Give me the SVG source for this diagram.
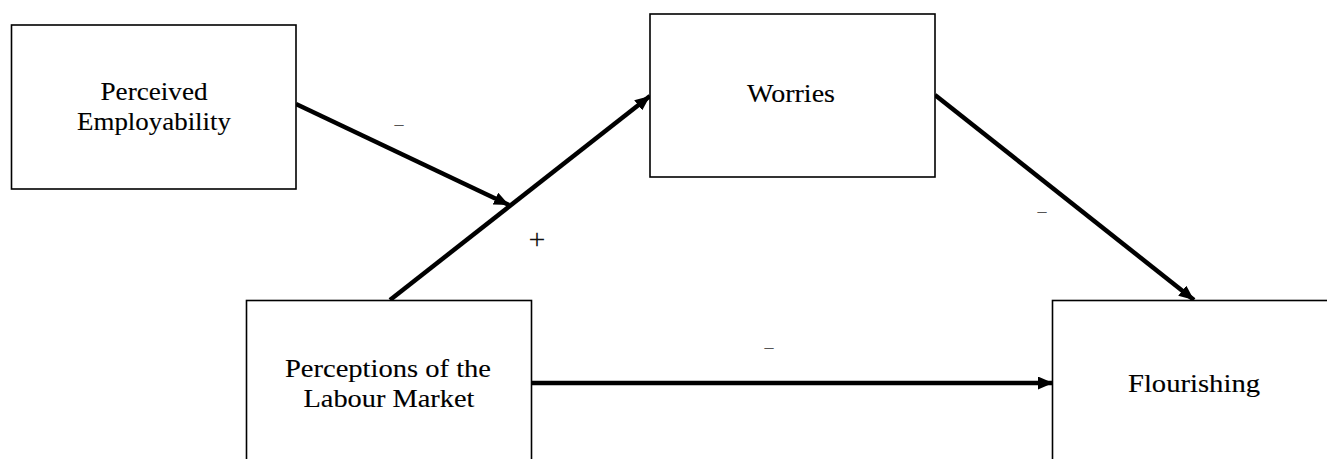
<svg xmlns="http://www.w3.org/2000/svg" width="1327" height="459" viewBox="0 0 1327 459">
<defs>
<style>
.box{fill:#fff;stroke:#000;stroke-width:1.6}
.lbl{font-family:'Liberation Serif','Times New Roman',serif;font-size:25px;fill:#000;stroke:#000;stroke-width:0.12;text-anchor:middle}
.sgn{font-family:'Liberation Serif','Times New Roman',serif;fill:#555;text-anchor:middle}
.edge{stroke:#000;stroke-width:4.5;fill:none;marker-end:url(#ah)}
</style>
<marker id="ah" markerUnits="userSpaceOnUse" viewBox="0 0 15 13" refX="15" refY="6.5" markerWidth="15" markerHeight="13" orient="auto">
<path d="M0,0 L15,6.5 L0,13 Z" fill="#000"/>
</marker>
</defs>
<rect width="1327" height="459" fill="#fff"/>
<g id="connectors">
<line class="edge" x1="296" y1="104" x2="509" y2="205"/>
<line class="edge" x1="390" y1="300" x2="650" y2="96"/>
<line class="edge" x1="935" y1="95" x2="1194" y2="300"/>
<line class="edge" x1="532" y1="383" x2="1053" y2="383"/>
</g>
<g id="node-employability">
<rect class="box" x="11.5" y="25" width="284.5" height="164"/>
<text class="lbl" x="154" y="100" textLength="107" lengthAdjust="spacingAndGlyphs">Perceived</text>
<text class="lbl" x="154" y="130" textLength="154" lengthAdjust="spacingAndGlyphs">Employability</text>
</g>
<g id="node-worries">
<rect class="box" x="650" y="14" width="285" height="163"/>
<text class="lbl" x="791" y="102" textLength="88" lengthAdjust="spacingAndGlyphs">Worries</text>
</g>
<g id="node-perceptions">
<rect class="box" x="246.5" y="300.5" width="285" height="170"/>
<text class="lbl" x="388" y="377" textLength="206" lengthAdjust="spacingAndGlyphs">Perceptions of the</text>
<text class="lbl" x="389" y="407" textLength="171" lengthAdjust="spacingAndGlyphs">Labour Market</text>
</g>
<g id="node-flourishing">
<rect class="box" x="1052.5" y="300.5" width="290" height="170"/>
<text class="lbl" x="1194" y="392" textLength="132" lengthAdjust="spacingAndGlyphs">Flourishing</text>
</g>
<g id="edge-labels">
<text class="sgn" x="399" y="130" style="font-size:18px">–</text>
<text class="sgn" x="537" y="249" style="font-size:30px;fill:#111">+</text>
<text class="sgn" x="1042" y="217" style="font-size:18px">–</text>
<text class="sgn" x="769" y="353" style="font-size:18px">–</text>
</g>
</svg>
